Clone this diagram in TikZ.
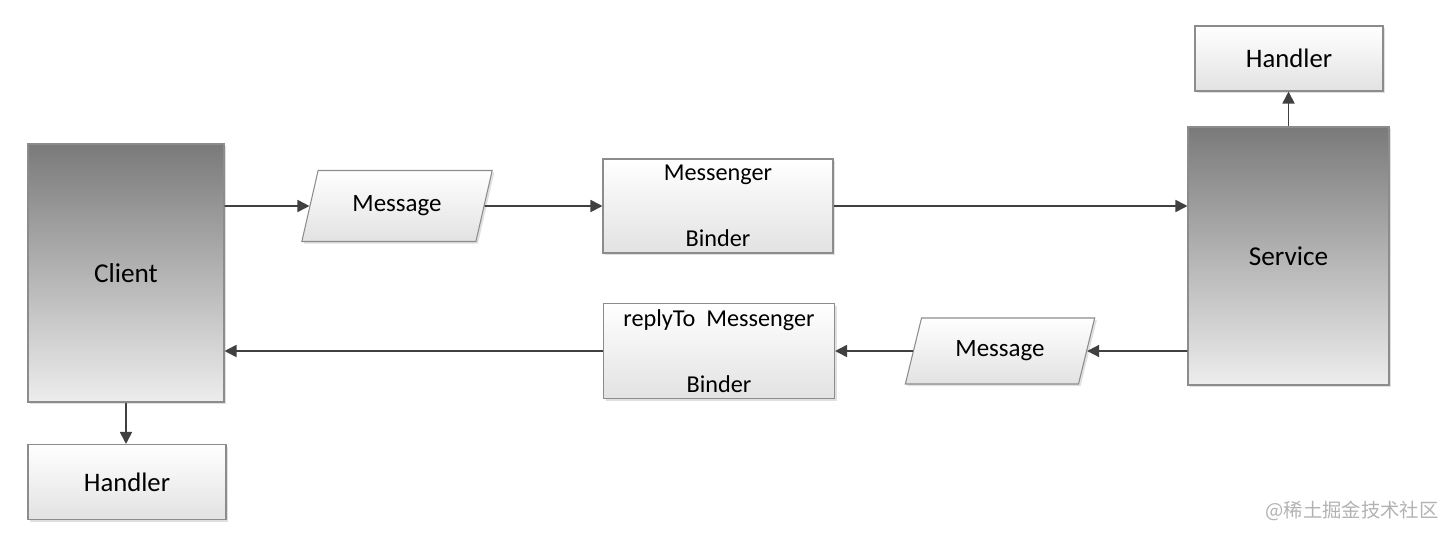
\documentclass[tikz,border=0pt]{standalone}
\usepackage{fontspec}
\setmainfont{Carlito}
\newfontfamily\cjkfont{Noto Sans CJK SC}
\usetikzlibrary{positioning,arrows.meta,shapes.geometric,shadows}
\definecolor{bordeGris}{HTML}{8C8C8C}
\definecolor{lineaGris}{HTML}{404040}
\definecolor{oscuroGris}{HTML}{7A7A7A}
\definecolor{claroGris}{HTML}{EDEDED}
\tikzset{
  sombra/.style={drop shadow={shadow xshift=1.2pt, shadow yshift=-1.2pt,
    opacity=0.12, fill=black}},
  extremo/.style={rectangle, draw=bordeGris, line width=0.6pt,
    top color=oscuroGris, bottom color=claroGris, sombra,
    minimum width=3.92cm, minimum height=5.16cm, align=center,
    font=\fontsize{15.5}{18}\selectfont},
  caja/.style={rectangle, draw=bordeGris, line width=0.6pt,
    top color=white, bottom color=claroGris!90!gray, sombra,
    align=center, font=\fontsize{13.8}{16}\selectfont},
  mensaje/.style={trapezium, trapezium left angle=72, trapezium right angle=108,
    trapezium stretches=true, draw=bordeGris, line width=0.6pt,
    top color=white, bottom color=claroGris!90!gray, sombra,
    align=center, font=\fontsize{14.2}{17}\selectfont},
  flechaMsg/.style={-{Triangle[length=2.4mm,width=2.4mm]}, line width=1pt, lineaGris},
}
\begin{document}
\begin{tikzpicture}
    \useasboundingbox (0,0) rectangle (29.02,-10.76);
    \node[extremo] (client)  at (2.52,-5.46)  {Client};
    \node[extremo, minimum width=4.02cm] (service) at (25.77,-5.12) {Service};
    \node[caja, minimum width=3.96cm, minimum height=1.5cm, font=\fontsize{15.2}{18}\selectfont]
          (handlerA) at (2.54,-9.64)  {Handler};
    \node[caja, minimum width=3.76cm, minimum height=1.3cm, font=\fontsize{15.2}{18}\selectfont]
          (handlerB) at (25.78,-1.17) {Handler};
    \node[mensaje, minimum width=3.82cm, minimum height=1.42cm] (msgA) at (7.94,-4.12) {Message};
    \node[mensaje, minimum width=3.8cm, minimum height=1.32cm]  (msgB) at (20.0,-7.02) {Message};
    \node[caja, minimum width=4.6cm, minimum height=1.88cm] (binderA) at (14.36,-4.12)
          {Messenger\\[0.76cm]Binder};
    \node[caja, minimum width=4.62cm, minimum height=1.9cm] (binderB) at (14.38,-7.02)
          {replyTo~ Messenger\\[0.76cm]Binder};
    \node[font=\cjkfont\fontsize{11}{13}\selectfont, text=gray!60] (marca) at (27.04,-10.22)
          {@稀土掘金技术社区};

    \draw[flechaMsg] (client.east |- msgA) -- (msgA);
    \draw[flechaMsg] (msgA) -- (binderA);
    \draw[flechaMsg] (binderA) -- (binderA -| service.west);
    \draw[flechaMsg] (service.west |- msgB) -- (msgB);
    \draw[flechaMsg] (msgB) -- (binderB);
    \draw[flechaMsg] (binderB) -- (binderB -| client.east);
    \draw[flechaMsg] (client.south) -- (client.south |- handlerA.north);
    \draw[flechaMsg] (service.north) -- (service.north |- handlerB.south);
  \end{tikzpicture}
\end{document}
